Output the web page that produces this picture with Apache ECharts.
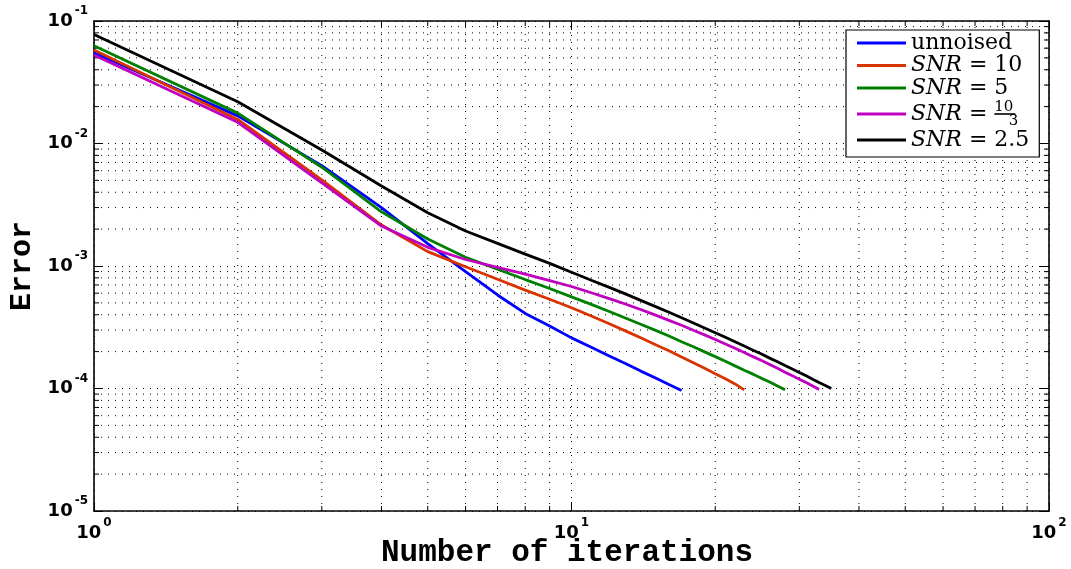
<!DOCTYPE html>
<html>
<head>
<meta charset="utf-8">
<script src="https://cdn.jsdelivr.net/npm/echarts@6/dist/echarts.min.js"></script>
<style>
html,body{margin:0;padding:0;background:#fff;}
#chart{width:1071px;height:569px;}
</style>
</head>
<body>
<div id="chart"></div>
<script>
// ---- data (error vs. iteration number, starting at iteration 1) ----
const seriesNames = ['unnoised', 'SNR = 10', 'SNR = 5', 'SNR = 10/3', 'SNR = 2.5'];
const errUnnoised = [0.0551, 0.0168, 0.0066, 0.0030, 0.00152, 0.00090, 0.00058, 0.00041, 0.000324, 0.000259,
  0.000217, 0.000184, 0.000159, 0.000138, 0.000122, 0.000108, 0.0000965];
const errSnr10 = [0.058, 0.0157, 0.00504, 0.00216, 0.00131, 0.000987, 0.00078, 0.000635, 0.000535, 0.000456,
  0.000391, 0.000338, 0.000294, 0.000258, 0.000228, 0.000203, 0.000181, 0.000162, 0.000146, 0.000132,
  0.00012, 0.000109, 0.0000975];
const errSnr5 = [0.0628, 0.0177, 0.0064, 0.00277, 0.00166, 0.00118, 0.00094, 0.000775, 0.000655, 0.00056,
  0.000486, 0.000425, 0.000375, 0.000333, 0.000298, 0.000268, 0.000241, 0.000219, 0.000199, 0.000182,
  0.000167, 0.000153, 0.000141, 0.000131, 0.000121, 0.000113, 0.000105, 0.0000978];
const errSnr10over3 = [0.0527, 0.0149, 0.00477, 0.00212, 0.00142, 0.00113, 0.000975, 0.00086, 0.00076, 0.00068,
  0.000605, 0.000542, 0.000487, 0.000439, 0.000397, 0.00036, 0.000328, 0.000299, 0.000274, 0.000251,
  0.000231, 0.000213, 0.000197, 0.000182, 0.000169, 0.000157, 0.000146, 0.000136, 0.000127, 0.000119,
  0.000112, 0.000105, 0.0000982];
const errSnr2p5 = [0.0775, 0.0219, 0.00885, 0.0045, 0.00272, 0.00193, 0.00153, 0.00125, 0.00105, 0.00089,
  0.000766, 0.000669, 0.000589, 0.000522, 0.000466, 0.000419, 0.000378, 0.000343, 0.000312, 0.000285,
  0.000262, 0.000241, 0.000222, 0.000205, 0.000191, 0.000177, 0.000165, 0.000154, 0.000144, 0.000135,
  0.000127, 0.000119, 0.000112, 0.000106, 0.0001];
const xRange = [1, 100];
const yRange = [1e-5, 1e-1];
const xDecades = [1, 10];                       // decade starts on the x axis
const yDecades = [1e-5, 1e-4, 1e-3, 1e-2];      // decade starts on the y axis
const minorMult = [2, 3, 4, 5, 6, 7, 8, 9];     // minor ticks inside each decade
const xTitle = 'Number of iterations';
const yTitle = 'Error';

// ---- styling ----
const colors = ['#0000ff', '#d93300', '#008000', '#bf00bf', '#000000'];
const allErr = [errUnnoised, errSnr10, errSnr5, errSnr10over3, errSnr2p5];
const toPairs = arr => arr.map((v, i) => [i + 1, v]);
const minorX = [];
xDecades.forEach(d => minorMult.forEach(m => minorX.push(+(d * m).toPrecision(6))));
const minorY = [];
yDecades.forEach(d => minorMult.forEach(m => minorY.push(+(d * m).toPrecision(6))));

const tickRich = {
  b: { fontFamily: 'DejaVu Sans', fontWeight: 'bold', fontSize: 18, color: '#000' },
  e: { fontFamily: 'DejaVu Sans', fontWeight: 'bold', fontSize: 12, color: '#000', padding: [0, 0, 20, 2] }
};
const expFmt = v => {
  const p = Math.round(Math.log10(v));
  return '{b|10}{e|' + (p < 0 ? '-' + (-p) : p) + '}';
};
const gridDot = { type: [1, 6], color: '#000', width: 1 };
const DOT = [1, 6];
const MINOR_LEN = 5;

function logAxis(range, pos, main) {
  return {
    type: 'log', logBase: 10, min: range[0], max: range[1], interval: 1, position: pos,
    axisLine: { show: true, onZero: false, lineStyle: { color: '#000', width: 1.6 } },
    axisTick: { show: true, inside: true, length: 9, lineStyle: { color: '#000', width: 1 } },
    minorTick: { show: false },
    axisLabel: main ? { show: true, formatter: expFmt, rich: tickRich, margin: 6 } : { show: false },
    splitLine: { show: main, lineStyle: gridDot },
    minorSplitLine: { show: false }
  };
}

const legendRich = {
  t: { fontFamily: 'DejaVu Serif', fontSize: 22, color: '#000', lineHeight: 20 },
  i: { fontFamily: 'DejaVu Serif', fontStyle: 'italic', fontSize: 22, color: '#000', lineHeight: 20 },
  strut: { lineHeight: 29, width: 0.01 },
  n: { fontFamily: 'DejaVu Serif', fontSize: 15, color: '#000', width: 0.01, align: 'left', verticalAlign: 'top', lineHeight: 16 },
  d: { fontFamily: 'DejaVu Serif', fontSize: 15, color: '#000', width: 0.01, align: 'left', verticalAlign: 'bottom', lineHeight: 16 },
  bar: { width: 21, height: 1.6, backgroundColor: '#000', verticalAlign: 'middle', lineHeight: 2 }
};
function legendFmt(name) {
  if (name === 'unnoised') return '{t|unnoised}';
  const val = name.replace('SNR = ', '');
  if (val.indexOf('/') >= 0) {
    const parts = val.split('/');
    return '{i|SNR}{t| = }{strut|}{n|' + parts[0] + '}{d|   ' + parts[1] + '}{bar|}';
  }
  return '{i|SNR}{t| = ' + val + '}';
}

// minor grid lines + inward minor ticks on both sides, placed through the axes' own scales
function minorRender(dir) {
  return function (params, api) {
    const v = api.value(dir === 'x' ? 0 : 1);
    let a, b;
    if (dir === 'x') { a = api.coord([v, yRange[0]]); b = api.coord([v, yRange[1]]); }
    else { a = api.coord([xRange[0], v]); b = api.coord([xRange[1], v]); }
    const ux = dir === 'x' ? 0 : MINOR_LEN, uy = dir === 'x' ? MINOR_LEN : 0;
    return {
      type: 'group', silent: true,
      children: [
        { type: 'line', shape: { x1: a[0], y1: a[1], x2: b[0], y2: b[1] },
          style: { stroke: '#000', lineWidth: 1, lineDash: DOT } },
        { type: 'line', shape: { x1: a[0], y1: a[1], x2: a[0] + ux, y2: a[1] - uy },
          style: { stroke: '#000', lineWidth: 1 } },
        { type: 'line', shape: { x1: b[0], y1: b[1], x2: b[0] - ux, y2: b[1] + uy },
          style: { stroke: '#000', lineWidth: 1 } }
      ]
    };
  };
}

const chart = echarts.init(document.getElementById('chart'), null, { renderer: 'canvas' });
const xMain = logAxis(xRange, 'bottom', true);
xMain.name = xTitle;
xMain.nameLocation = 'middle';
xMain.nameGap = 27;
xMain.nameMoveOverlap = false;
xMain.nameTextStyle = { fontFamily: 'Liberation Mono', fontWeight: 'bold', fontSize: 31, color: '#000', padding: [0, 9, 0, 0] };
const yMain = logAxis(yRange, 'left', true);
yMain.name = yTitle;
yMain.nameLocation = 'middle';
yMain.nameGap = 57;
yMain.nameMoveOverlap = false;
yMain.nameTextStyle = { fontFamily: 'Liberation Mono', fontWeight: 'bold', fontSize: 30, color: '#000' };

const lineSeries = allErr.map((arr, k) => ({
  name: seriesNames[k], type: 'line', xAxisIndex: 0, yAxisIndex: 0,
  data: toPairs(arr), showSymbol: false, symbol: 'none',
  lineStyle: { color: colors[k], width: 2.8 }, itemStyle: { color: colors[k] },
  z: 3 + k
}));

chart.setOption({
  backgroundColor: '#ffffff',
  animation: false,
  grid: { left: 94, right: 22, top: 21, bottom: 58, containLabel: false, outerBoundsMode: 'none' },
  legend: {
    orient: 'vertical', left: 846, top: 30,
    padding: [2, 10, 6, 11],
    itemGap: 0.5, itemWidth: 49, itemHeight: 3, icon: 'rect',
    backgroundColor: '#fff', borderColor: '#000', borderWidth: 1.2, borderRadius: 0,
    formatter: legendFmt,
    textStyle: { rich: legendRich, fontFamily: 'DejaVu Serif', fontSize: 22, color: '#000' },
    data: seriesNames
  },
  xAxis: [xMain, logAxis(xRange, 'top', false)],
  yAxis: [yMain, logAxis(yRange, 'right', false)],
  series: [
    { type: 'custom', name: 'minorX', coordinateSystem: 'cartesian2d', xAxisIndex: 0, yAxisIndex: 0,
      data: minorX.map(v => [v, yRange[0]]), renderItem: minorRender('x'), silent: true, z: 1, clip: false },
    { type: 'custom', name: 'minorY', coordinateSystem: 'cartesian2d', xAxisIndex: 0, yAxisIndex: 0,
      data: minorY.map(v => [xRange[0], v]), renderItem: minorRender('y'), silent: true, z: 1, clip: false }
  ].concat(lineSeries)
});
</script>
</body>
</html>
